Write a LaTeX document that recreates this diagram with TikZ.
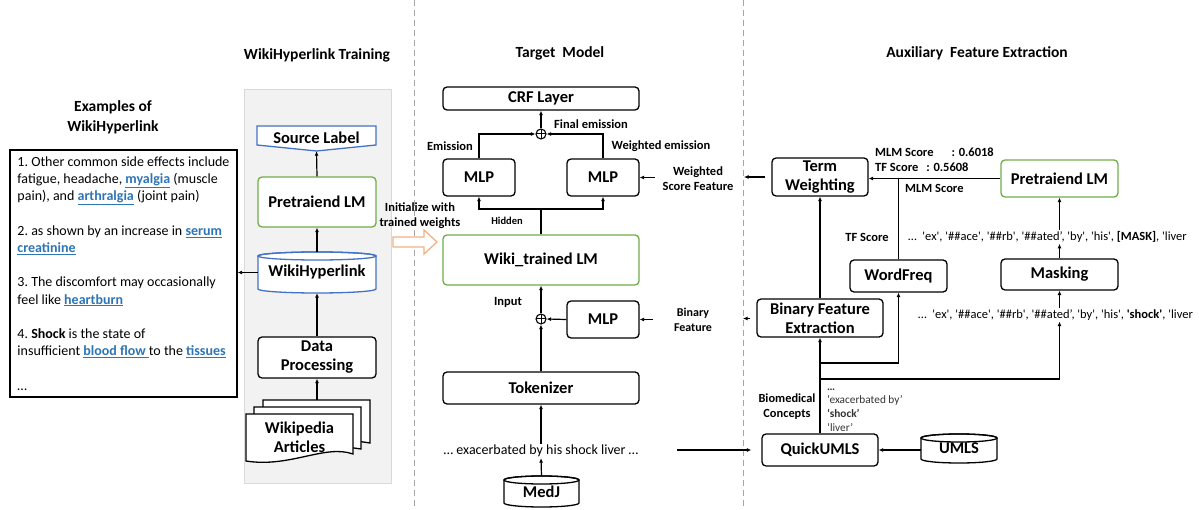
\documentclass[tikz,border=0pt]{standalone}
\usepackage{fontspec}
\setmainfont{Carlito}[Ligatures=TeXOff]
\usetikzlibrary{arrows.meta,calc}
\definecolor{lmgreen}{HTML}{70AD47}
\definecolor{lmblue}{HTML}{4472C4}
\definecolor{linkblue}{HTML}{2E75B6}
\definecolor{panelfill}{HTML}{F2F2F2}
\definecolor{paneldraw}{HTML}{D9D9D9}
\definecolor{dashgray}{HTML}{A6A6A6}
\definecolor{initorange}{HTML}{F4B183}
\newcommand\fzBox{\fontsize{16.5}{19}\selectfont\bfseries}
\newcommand\fzTitle{\fontsize{15.5}{20}\selectfont\bfseries}
\newcommand\fzLab{\fontsize{12.5}{15}\selectfont\bfseries}
\newcommand\fzHid{\fontsize{10.5}{13}\selectfont\bfseries}
\newcommand\fzEx{\fontsize{14}{17.2}\selectfont\frenchspacing}
\newcommand\fzTok{\fontsize{12.5}{15}\selectfont}
\newcommand\fzSent{\fontsize{14}{17}\selectfont}
\newcommand\fzCon{\fontsize{11.3}{13.7}\selectfont}
\newcommand\lnk[1]{\textcolor{linkblue}{\underline{\textbf{#1}}}}
\tikzset{
 box/.style={draw, rounded corners=4pt, line width=1.3pt, fill=white, inner sep=0pt, align=center, font=\fzBox},
 gbox/.style={box, draw=lmgreen},
 lab/.style={inner sep=0pt, align=center, font=\fzLab},
 arr/.style={line width=1.2pt, -{Latex[length=4.5pt,width=4pt]}},
 ln/.style={line width=1.2pt},
 oplus/.style={circle, draw, line width=1.1pt, minimum size=10pt, inner sep=0pt,
   path picture={\draw[line width=1pt] (path picture bounding box.north) -- (path picture bounding box.south)
     (path picture bounding box.west) -- (path picture bounding box.east);}},
 docshape/.style={draw, fill=white, line width=1.3pt},
}
\newcommand\mycyl[7]{%
 \pgfmathsetmacro\cyL{#2-#4/2}\pgfmathsetmacro\cyR{#2+#4/2}%
 \pgfmathsetmacro\cyT{#3-#5/2+4}\pgfmathsetmacro\cyB{#3+#5/2-4}%
 \pgfmathsetmacro\cyRX{#4/2}%
 \filldraw[draw=#6, fill=white, line width=1.3pt] (\cyL,\cyT) -- (\cyL,\cyB)
   arc[start angle=180,end angle=360,x radius=\cyRX pt,y radius=4pt] -- (\cyR,\cyT)
   arc[start angle=0,end angle=180,x radius=\cyRX pt,y radius=4pt] -- cycle;
 \draw[draw=#6, line width=1.3pt] (#2,\cyT) ellipse[x radius=\cyRX pt, y radius=4pt];
 \node[inner sep=0pt, font=\fzBox, minimum width=#4pt, minimum height=#5pt] (#1) at (#2,#3) {\raisebox{-3pt}{#7}};
}
\begin{document}
\begin{tikzpicture}[x=1pt,y=-1pt]
\fill[white] (0,0) rectangle (1199,510);
\useasboundingbox (0,0) rectangle (1199,510);

% ---------- left: examples ----------
\node[font=\fzTitle, align=center, inner sep=0pt] (extitle) at (113,117) {Examples of\\WikiHyperlink};
\node[draw, line width=1.3pt, minimum width=227pt, minimum height=247pt, inner xsep=5pt, inner ysep=4pt, align=left, font=\fzEx] (ex) at (123.5,273.5) {%
1. Other common side effects include\\
fatigue, headache, \lnk{myalgia} (muscle\\
pain), and \lnk{arthralgia} (joint pain)\\[17.2pt]
2. as shown by an increase in \lnk{serum}\\
\lnk{creatinine}\\[17.2pt]
3. The discomfort may occasionally\\
feel like \lnk{heartburn}\\[17.2pt]
4. \textbf{Shock} is the state of\\
insufficient \lnk{blood flow\ }to the \lnk{tissues}\\[17.2pt]
…};

% ---------- WikiHyperlink training panel ----------
\node[fill=panelfill, draw=paneldraw, line width=1pt, minimum width=147pt, minimum height=393pt, inner sep=0pt] (panel) at (317.5,286.5) {};
\node[font=\fzTitle, inner sep=0pt] (t1) at (317,55) {WikiHyperlink Training};

\filldraw[draw=lmblue, fill=white, line width=1.3pt] (257,126) -- (376,126) -- (376,145) -- (316.5,151) -- (257,145) -- cycle;
\node[inner sep=0pt, font=\fzBox, minimum width=119pt, minimum height=25pt] (src) at (316.5,138.5) {\raisebox{2pt}{Source Label}};
\node[gbox, minimum width=118pt, minimum height=50pt] (plm1) at (317,202) {Pretraiend LM};
\mycyl{whl}{317}{272.5}{118}{41}{lmblue}{WikiHyperlink}
\node[box, minimum width=118pt, minimum height=41pt] (dp) at (317,357.5) {Data\\Processing};

% Wikipedia articles (multi-document)
\draw[docshape] (263,400) -- (370,400) -- (370,443) .. controls (350,440) .. (340,445) -- (340,410) -- (263,410) -- cycle;
\draw[docshape] (254,407) -- (361,407) -- (361,449) .. controls (340,446) .. (330,451) -- (330,416) -- (254,416) -- cycle;
\draw[docshape] (246,414) -- (353,414) -- (353,454) .. controls (325,444) and (290,468) .. (246,461) -- cycle;
\node[inner sep=0pt, font=\fzBox, align=center] (wikiart) at (299.5,437) {Wikipedia\\Articles};
\coordinate (wikitop) at (317,400);

\draw[arr] (wikitop) -- (dp.south);
\draw[arr] (dp.north) -- (whl.south);
\draw[arr] (whl.north) -- (plm1.south);
\draw[arr] (plm1.north) -- (src.south);
\draw[arr] (whl.west) -- (whl.west -| ex.east);

% dashed separators
\draw[dashgray, line width=1pt, dash pattern=on 6pt off 4pt] (414,0) -- (414,510);
\draw[dashgray, line width=1pt, dash pattern=on 6pt off 4pt] (743,0) -- (743,510);

% initialize arrow
\node[font=\fzLab, align=center, inner sep=0pt] (initlab) at (420,216) {Initialize with\\trained weights};
\filldraw[draw=initorange, fill=white, line width=1.3pt] (393,237) -- (424,237) -- (424,230) -- (437,242) -- (424,254) -- (424,247) -- (393,247) -- cycle;

% ---------- Target model ----------
\node[font=\fzTitle, inner sep=0pt] (t2) at (560,53) {Target~ Model};
\node[box, minimum width=196pt, minimum height=23pt] (crf) at (541,98.5) {CRF Layer};
\node[oplus] (p1) at (541,134) {};
\node[box, minimum width=72pt, minimum height=37pt] (mlpL) at (479,177.5) {MLP};
\node[box, minimum width=72pt, minimum height=37pt] (mlpR) at (603,177.5) {MLP};
\node[gbox, minimum width=196pt, minimum height=50pt] (wlm) at (541,260) {Wiki\_trained LM};
\node[oplus] (p2) at (541,319) {};
\node[box, minimum width=72pt, minimum height=37pt] (mlpB) at (603,319.5) {MLP};
\node[box, minimum width=196pt, minimum height=32pt] (tok) at (541,388) {Tokenizer};
\node[font=\fzSent, inner sep=1pt] (sent) at (541,451) {… exacerbated by his shock liver …};
\mycyl{medj}{541.5}{491.5}{75}{31}{black}{MedJ}

\node[lab, anchor=west] (lfe) at (554,124) {Final emission};
\node[lab] (lem) at (450,146) {Emission};
\node[lab] (lwe) at (661,146) {Weighted emission};
\node[lab] (lws) at (698,178.5) {Weighted\\Score Feature};
\node[inner sep=0pt, font=\fzHid] (lhid) at (507,221) {Hidden};
\node[lab] (linp) at (508,302) {Input};
\node[lab, font=\fontsize{12}{15}\selectfont\bfseries] (lbf) at (693,320) {Binary\\Feature};

\draw[arr] (p1.north) -- (p1.north |- crf.south);
\draw[arr] (mlpL.north) |- (p1.west);
\draw[arr] (mlpR.north) |- (p1.east);
\coordinate (hj) at (541,209);
\draw[ln] (wlm.north) -- (hj);
\draw[arr] (hj) -| (mlpL.south);
\draw[arr] (hj) -| (mlpR.south);
\coordinate (wsin) at (655,177.5);
\draw[arr] (wsin) -- (mlpR.east);
\draw[arr] (p2.north) -- (wlm.south);
\draw[arr] (tok.north) -- (p2.south);
\draw[arr] (mlpB.west) -- (p2.east);
\coordinate (bfin) at (653,319.5);
\draw[arr] (bfin) -- (mlpB.east);
\draw[arr] (sent.north) -- (tok.south);
\draw[arr] (medj.north) -- (sent.south);
\coordinate (sentout) at (677,450);

% ---------- Auxiliary feature extraction ----------
\node[font=\fzTitle, inner sep=0pt] (t3) at (977,53) {Auxiliary~ Feature Extraction};
\node[box, minimum width=96pt, minimum height=38pt] (termw) at (820,177) {Term\\Weighting};
\node[gbox, minimum width=117pt, minimum height=37pt] (plm2) at (1059.5,178.5) {Pretraiend LM};
\node[box, minimum width=97pt, minimum height=32pt] (wf) at (898.5,276) {WordFreq};
\node[box, minimum width=117pt, minimum height=31pt] (mask) at (1059.5,274.5) {Masking};
\node[box, minimum width=126pt, minimum height=38pt] (bfe) at (820,318) {Binary Feature\\Extraction};
\node[box, minimum width=116pt, minimum height=32pt] (quick) at (820,450) {QuickUMLS};
\mycyl{umls}{959}{448.5}{76}{29}{black}{UMLS}

\node[lab, anchor=west, align=left] (lscores) at (875,159.5) {MLM Score\hspace{18pt}: 0.6018\\TF Score\hspace{8pt}: 0.5608};
\node[lab, anchor=west] (lmlm) at (905,188) {MLM Score};
\node[lab] (ltf) at (867,237) {TF Score};
\node[font=\fzTok, anchor=west, inner sep=1pt] (tok1) at (907,237) {…\ \ 'ex', '\#\#ace', '\#\#rb', '\#\#ated’, 'by', 'his', \textbf{[MASK]}, 'liver};
\node[font=\fzTok, anchor=west, inner sep=1pt] (tok2) at (917,315) {…\ \ 'ex', '\#\#ace', '\#\#rb', '\#\#ated’, 'by', 'his', \textbf{'shock'}, 'liver};
\node[lab, font=\fontsize{12.4}{15}\selectfont\bfseries] (lbio) at (787,406.5) {Biomedical\\Concepts};
\node[font=\fzCon, anchor=north west, align=left, inner sep=0pt, text=black!80] (lcon) at (827,380.5) {\strut\textbf{…}\\‘exacerbated by’\\\textbf{‘shock’}\\‘liver’};

\draw[arr] (plm2.west) -- (plm2.west -| termw.east);
\draw[ln] (wf.north) -- (wf.north |- plm2.west);
\draw[arr] (bfe.north) -- (termw.south);
\coordinate (twout) at (765,177);
\coordinate (wsend) at (744,177);
\draw[arr] (twout) -- (wsend);
\coordinate (bfout) at (750,318.5);
\coordinate (bfend) at (743,318.5);
\draw[arr] (bfout) -- (bfend);
\draw[arr] (quick.north) -- (bfe.south);
\coordinate (j1) at (820,363);
\coordinate (j2) at (820,379);
\draw[arr] (j1) -| (wf.south);
\draw[arr] (j2) -| (tok2.south -| mask.south);
\draw[arr] (tok2.north -| mask.south) -- (mask.south);
\draw[arr] (mask.north) -- (mask.north |- tok1.south);
\draw[arr] (tok1.north -| plm2.south) -- (plm2.south);
\draw[arr] (umls.west |- quick.east) -- (quick.east);
\draw[arr, shorten >=10pt] (sentout) -- (quick.west);
\end{tikzpicture}
\end{document}
